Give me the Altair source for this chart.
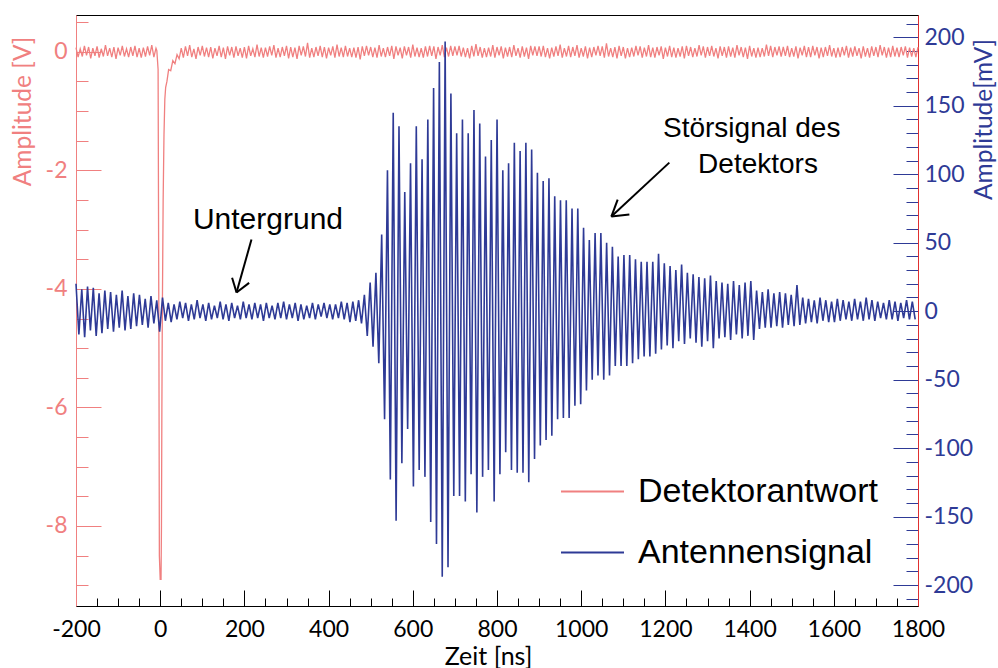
import altair as alt
import pandas as pd

# ---------------- data ----------------
# Antenna signal [mV], transcribed extremum by extremum, one value every 6.85 ns from t = -200 ns
ANT_STEP = 6.85
ant_background = [
    20, -17, 16, -19, 18, -14, 17, -18, 13, -16,
    15, -13, 14, -15, 12, -12, 15, -14, 11, -13,
    13, -11, 12, -10, 9, -12, 11, -9, 8, -15,
    10, -7, 6, -8, 5, -6, 7, -5, 6, -7,
    5, -6, 8, -5, 5, -7, 6, -6, 4, -5,
    7, -6, 5, -7, 6, -5, 4, -6, 7, -5,
    5, -6, 6, -5, 5, -7, 6, -5, 4, -6,
    6, -5, 7, -6, 5, -5, 6, -7, 5, -6,
    4, -5, 6, -6, 5, -4, 6, -5, 5, -6,
    5, -5, 7, -6, 6, -8, 7, -7, 8, -9,
    12, -18,
]
ant_burst = [
    21, -26, 28, -38, 56, -79, 103, -123, 145, -153,
    135, -111, 87, -86, 108, -128, 135, -116, 111, -121,
    140, -154, 163, -170, 182, -194, 197, -187, 159, -135,
    130, -135, 140, -139, 130, -119, 147, -147, 137, -121,
    113, -116, 125, -139, 140, -119, 103, -103, 108, -116,
    123, -118, 117, -118, 123, -125, 118, -108, 101, -98,
    95, -94, 97, -91, 84, -79, 81, -78, 81, -78,
    75, -69, 75, -68, 61, -58, 52, -50, 57, -47,
    57, -50, 50, -47, 47, -40, 40, -40, 41, -40,
    41, -38, 38, -35, 36, -33, 36, -33, 36, -31,
    42,
]
ant_decay = [
    -28, 35, -25, 33, -27, 30, -22, 34, -24, 28,
    -20, 27, -23, 25, -26, 24, -22, 26, -27, 22,
    -20, 21, -19, 20, -21, 22, -17, 19, -20, 21,
    -18, 22, -21, 15, -13, 14, -12, 16, -12, 13,
    -11, 14, -12, 13, -10, 12, -11, 19, -10, 10,
    -9, 9, -8, 8, -9, 10, -7, 8, -8, 7,
    -8, 9, -7, 8, -6, 7, -7, 9, -6, 7,
    -7, 10, -6, 8, -7, 7, -5, 6, -6, 8,
    -6, 7, -7, 6, -5, 8, -6, 7, -6,
]

# Detector response [V]: baseline noise every 5 ns, plus the pulse near t = 0
DET_STEP = 5
det_noise_before = [  # t = -200 ... -10 ns
    0.07, -0.09, 0.05, -0.08, 0.10, -0.06, 0.08, -0.11, 0.06, -0.07, 0.09, -0.10, 0.05,
    -0.08, 0.11, -0.07, 0.06, -0.09, 0.08, -0.12, 0.07, -0.06, 0.10, -0.08, 0.05, -0.09,
    0.08, -0.07, 0.10, -0.09, 0.06, -0.10, 0.07, -0.08, 0.09, -0.06, 0.11, -0.09, 0.06,
]
det_pulse_t = [-8, -5, -3, -2, 0, 2, 3, 4, 5, 7, 9, 11, 13, 16, 20, 25, 30, 35, 40, 45]
det_pulse_v = [0.02, -0.3, -5.0, -8.5, -8.9, -8.9, -8.0, -6.0, -4.5, -2.5,
               -1.4, -0.8, -0.6, -0.5, -0.3, -0.32, -0.15, -0.2, -0.05, -0.12]
det_noise_after = [  # t = 50 ... 1800 ns
    0.06, -0.10, 0.09, -0.07, 0.11, -0.09, 0.05, -0.12, 0.08, -0.06, 0.10, -0.08, 0.07,
    -0.09, 0.08, -0.11, 0.06, -0.07, 0.10, -0.09, 0.07, -0.12, 0.09, -0.06, 0.08, -0.10,
    0.09, -0.07, 0.06, -0.10, 0.08, -0.11, 0.10, -0.07, 0.05, -0.09, 0.12, -0.08, 0.07,
    -0.10, 0.07, -0.08, 0.09, -0.06, 0.11, -0.10, 0.06, -0.09, 0.08, -0.07, 0.10, -0.11,
    0.08, -0.09, 0.07, -0.12, 0.10, -0.06, 0.09, -0.08, 0.15, -0.10, 0.06, -0.09, 0.08,
    -0.07, 0.10, -0.09, 0.08, -0.11, 0.07, -0.06, 0.09, -0.10, 0.12, -0.08, 0.07, -0.09,
    0.10, -0.08, 0.06, -0.09, 0.07, -0.10, 0.08, -0.13, 0.09, -0.07, 0.10, -0.06, 0.08,
    -0.09, 0.07, -0.10, 0.11, -0.08, 0.06, -0.09, 0.08, -0.07, 0.10, -0.12, 0.09, -0.06,
    0.07, -0.11, 0.09, -0.06, 0.08, -0.10, 0.12, -0.08, 0.07, -0.09, 0.06, -0.10, 0.09,
    -0.08, 0.10, -0.07, 0.09, -0.12, 0.08, -0.06, 0.11, -0.09, 0.07, -0.08, 0.10, -0.07,
    0.09, -0.06, 0.10, -0.08, 0.07, -0.09, 0.06, -0.11, 0.10, -0.08, 0.13, -0.07, 0.08,
    -0.10, 0.06, -0.09, 0.07, -0.08, 0.11, -0.10, 0.08, -0.06, 0.09, -0.11, 0.07, -0.08,
    0.08, -0.09, 0.11, -0.07, 0.06, -0.10, 0.09, -0.08, 0.07, -0.12, 0.10, -0.06, 0.09,
    -0.07, 0.09, -0.08, 0.10, -0.09, 0.06, -0.11, 0.07, -0.08, 0.09, -0.07, 0.12, -0.10,
    0.06, -0.08, 0.10, -0.09, 0.08, -0.07, 0.11, -0.10, 0.06, -0.08, 0.09, -0.11, 0.07,
    -0.09, 0.08, -0.06, 0.10, -0.07, 0.09, -0.10, 0.14, -0.08, 0.06, -0.09, 0.08, -0.11,
    0.10, -0.07, 0.08, -0.11, 0.06, -0.09, 0.07, -0.08, 0.10, -0.06, 0.09, -0.10, 0.07,
    -0.08, 0.11, -0.09, 0.07, -0.10, 0.08, -0.06, 0.09, -0.12, 0.07, -0.08, 0.10, -0.09,
    0.07, -0.10, 0.06, -0.08, 0.09, -0.11, 0.10, -0.07, 0.08, -0.09, 0.06, -0.08, 0.11,
    -0.06, 0.09, -0.10, 0.08, -0.07, 0.10, -0.08, 0.06, -0.11, 0.09, -0.07, 0.08, -0.10,
    0.09, -0.08, 0.07, -0.10, 0.11, -0.06, 0.08, -0.09, 0.07, -0.12, 0.10, -0.08, 0.06,
    -0.10, 0.07, -0.09, 0.06, -0.08, 0.12, -0.07, 0.10, -0.09, 0.08, -0.06, 0.09, -0.08,
    0.08, -0.07, 0.10, -0.09, 0.06, -0.08, 0.09, -0.11, 0.07, -0.06, 0.10, -0.09, 0.08,
    -0.09, 0.10, -0.06, 0.08, -0.11, 0.07, -0.09, 0.08, -0.07, 0.11, -0.08, 0.06, -0.10,
    0.07, -0.09, 0.08, -0.06, 0.10, -0.10, 0.07, -0.08, 0.09, -0.07, 0.06, -0.11, 0.09,
    -0.08, 0.06, -0.10, 0.09, -0.07, 0.08, -0.09, 0.11, -0.06, 0.08, -0.10, 0.07, -0.09,
    0.10, -0.08, 0.07, -0.09, 0.08, -0.06, 0.09, -0.10, 0.07, -0.08, 0.06, -0.09, 0.08,
]

series_names = ["Detektorantwort", "Antennensignal"]

# annotations (data coordinates: t [ns], antenna amplitude [mV])
note_text = ["Untergrund", "Störsignal des", "Detektors"]
note_t = [256, 1405, 1420]
note_mv = [60, 127, 101]
note_size = [30, 28, 28]
# arrow segments: shaft + two head strokes
arrow_t0 = [216.8, 181.3, 181.3, 1209.3, 1071.6, 1071.6]
arrow_mv0 = [52.3, 13.6, 13.6, 108.5, 69.1, 69.1]
arrow_t1 = [181.3, 170.8, 211.2, 1071.6, 1086.6, 1114.4]
arrow_mv1 = [13.6, 24.4, 20.7, 69.1, 81.5, 70.6]

# ---------------- tables ----------------
ant_mv = ant_background + ant_burst + ant_decay
ant_df = pd.DataFrame({
    "t": [-200 + ANT_STEP * i for i in range(len(ant_mv))],
    "v": ant_mv,
    "series": series_names[1],
})
det_t = ([-200 + DET_STEP * i for i in range(len(det_noise_before))] + det_pulse_t
         + [50 + DET_STEP * i for i in range(len(det_noise_after))])
det_v = det_noise_before + det_pulse_v + det_noise_after
det_df = pd.DataFrame({"t": det_t, "v": det_v, "series": series_names[0]})
note_df = pd.DataFrame({"text": note_text, "t": note_t, "mv": note_mv, "fs": note_size})
arrow_df = pd.DataFrame({"t0": arrow_t0, "m0": arrow_mv0, "t1": arrow_t1, "m1": arrow_mv1})

SALMON = "#f08080"
BLUE = "#2e3a96"
FONT = "Lato"

x_scale = alt.Scale(domain=[-200, 1800], nice=False, zero=False)
yl_scale = alt.Scale(domain=[-9.35, 0.62], nice=False, zero=False)
yr_scale = alt.Scale(domain=[-215.3, 216.3], nice=False, zero=False)
color_scale = alt.Scale(domain=series_names, range=[SALMON, BLUE])

x_axis = alt.Axis(
    values=list(range(-200, 1801, 50)),
    labelExpr="datum.value % 200 === 0 ? '' + datum.value : ''",
    tickSize=alt.ExprRef(expr="datum.value % 200 === 0 ? -16 : -8"),
    labelPadding=28, labelFlush=False, labelOverlap=False,
    labelFont=FONT, labelFontSize=23, labelColor="black",
    tickColor="black", domainColor="black", grid=False,
    title="Zeit [ns]", titleFont=FONT, titleFontSize=25, titleFontWeight="normal",
    titleColor="black", titleX=412, titleY=50, titleAlign="center",
    titleBaseline="middle", titleAngle=0,
)
left_axis = alt.Axis(
    orient="left",
    values=[-9 + 0.5 * k for k in range(20)],
    labelExpr="datum.value % 2 === 0 ? '' + datum.value : ''",
    tickSize=alt.ExprRef(expr="datum.value % 2 === 0 ? -25 : -12"),
    labelPadding=34, labelOverlap=False,
    labelFont=FONT, labelFontSize=23, labelColor=SALMON,
    tickColor=SALMON, domainColor=SALMON, grid=False,
    title="Amplitude [V]", titleFont=FONT, titleFontSize=24.5, titleFontWeight="normal",
    titleColor=SALMON, titleX=-53, titleY=96, titleAngle=270,
    titleAlign="center", titleBaseline="middle",
)
right_axis = alt.Axis(
    orient="right",
    values=list(range(-210, 211, 10)),
    labelExpr="datum.value % 50 === 0 ? '' + datum.value : ''",
    tickSize=alt.ExprRef(expr="datum.value % 50 === 0 ? -25 : -12"),
    labelPadding=31, labelOverlap=False,
    labelFont=FONT, labelFontSize=23, labelColor=BLUE,
    tickColor=BLUE, domainColor="#e03030", grid=False,
    title="Amplitude[mV]", titleFont=FONT, titleFontSize=24.5, titleFontWeight="normal",
    titleColor=BLUE, titleX=66, titleY=104, titleAngle=270,
    titleAlign="center", titleBaseline="middle",
)

legend = alt.Legend(
    title=None, orient="none", legendX=484, legendY=444,
    symbolType="stroke", symbolSize=3969, symbolStrokeWidth=2,
    labelFont="Liberation Sans", labelFontSize=34, labelColor="black",
    labelOffset=13, rowPadding=11, padding=0, labelLimit=0,
)

det_layer = alt.Chart(det_df).mark_line(strokeWidth=1.3).encode(
    x=alt.X("t:Q", scale=x_scale, axis=x_axis),
    y=alt.Y("v:Q", scale=yl_scale, axis=left_axis),
    color=alt.Color("series:N", scale=color_scale, legend=legend),
    order=alt.Order("t:Q"),
)

ant_layer = alt.Chart(ant_df).mark_line(strokeWidth=1.6).encode(
    x=alt.X("t:Q", scale=x_scale, axis=x_axis),
    y=alt.Y("v:Q", scale=yr_scale, axis=right_axis),
    color=alt.Color("series:N", scale=color_scale, legend=legend),
    order=alt.Order("t:Q"),
)

arrows = alt.Chart(arrow_df).mark_rule(color="black", strokeWidth=2).encode(
    x=alt.X("t0:Q", scale=x_scale, axis=x_axis),
    x2="t1:Q",
    y=alt.Y("m0:Q", scale=yr_scale, axis=right_axis),
    y2="m1:Q",
)

notes = alt.Chart(note_df).mark_text(
    font="Liberation Sans", color="black", align="center", baseline="alphabetic"
).encode(
    x=alt.X("t:Q", scale=x_scale, axis=x_axis),
    y=alt.Y("mv:Q", scale=yr_scale, axis=right_axis),
    size=alt.Size("fs:Q", scale=None, legend=None),
    text="text:N",
)

right_group = alt.layer(ant_layer, arrows, notes)

chart = alt.layer(det_layer, right_group).resolve_scale(y="independent").properties(
    width=842, height=591,
    padding={"left": 76, "top": 15, "right": 80, "bottom": 62},
    autosize=alt.AutoSizeParams(type="none"),
    background="white",
).configure_view(stroke="black", strokeWidth=1)

chart.save("out.html", embed_options={"renderer": "svg", "actions": False})
